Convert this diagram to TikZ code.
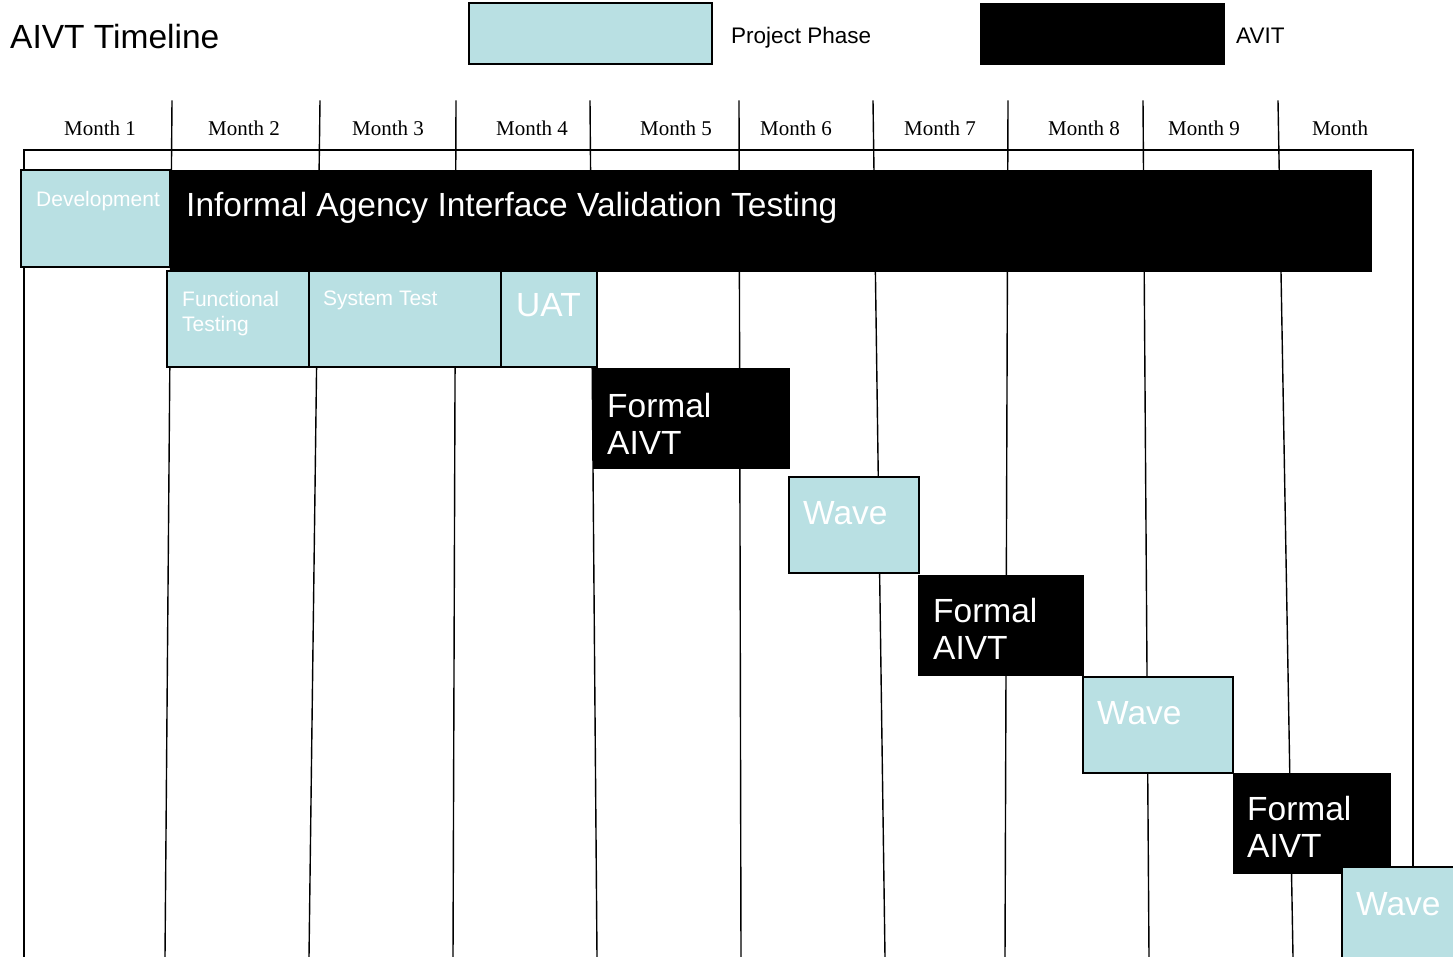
\documentclass[tikz,border=0pt]{standalone}
\usepackage{fontspec}
\setmainfont{Liberation Serif}
\setsansfont{Liberation Sans}
\definecolor{phaseblue}{RGB}{185,224,227}
\begin{document}
\begin{tikzpicture}[x=1pt,y=-1pt,
  gridline/.style={line width=1.4pt, line cap=rect},
  phasebox/.style={draw=black, line width=1.4pt, fill=phaseblue, rectangle,
    anchor=north west, inner sep=0pt, outer sep=0pt},
  avitbox/.style={fill=black, draw=black, line width=0.5pt, rectangle,
    anchor=north west, inner sep=0pt, outer sep=0pt},
  bigtext/.style={font=\sffamily\fontsize{33.5}{37}\selectfont, text=white,
    inner sep=0pt, align=left},
  smalltext/.style={font=\sffamily\fontsize{21}{25}\selectfont, text=white,
    inner sep=0pt, align=left},
  legendtext/.style={font=\sffamily\fontsize{22.5}{26}\selectfont, text=black,
    inner sep=0pt, anchor=base west},
  monthtext/.style={font=\rmfamily\fontsize{21}{25}\selectfont, inner sep=0pt,
    anchor=base},
]
\useasboundingbox (0,0) rectangle (1453,957);
\clip (0,0) rectangle (1453,957);

% ---- title and legend ----
\node[font=\sffamily\fontsize{33.5}{37}\selectfont, inner sep=0pt, anchor=base west]
  (title) at (10,49) {AIVT Timeline};
\node[phasebox, minimum width=243pt, minimum height=61pt] (keyphase) at (469,3) {};
\node[legendtext] (keyphaselbl) at (731,44) {Project Phase};
\node[avitbox, minimum width=244pt, minimum height=61pt] (keyavit) at (980,3) {};
\node[legendtext] (keyavitlbl) at (1236,44) {AVIT};

% ---- month headings ----
\foreach \x/\t [count=\i] in {100/Month 1, 244/Month 2, 388/Month 3, 532/Month 4,
    676/Month 5, 796/Month 6, 940/Month 7, 1084/Month 8, 1204/Month 9, 1340/Month}
  \node[monthtext] (month\i) at (\x,136) {\t};

% ---- frame and month dividers ----
\coordinate (frameBL) at (24,970);
\coordinate (frameTL) at (24,150);
\coordinate (frameTR) at (1413,150);
\coordinate (frameBR) at (1413,970);
\draw[gridline] (frameBL) -- (frameTL) -- (frameTR) -- (frameBR);
\foreach \xt/\xb [count=\i] in {172/165, 320/309, 456/453, 590/597, 739/741,
    873/885, 1008/1005, 1143/1149, 1278/1293} {
  \coordinate (divtop\i) at (\xt,101);
  \coordinate (divbot\i) at (\xb,957);
  \draw[gridline] (divtop\i) -- (divbot\i);
}

% ---- phases ----
\node[phasebox, minimum width=149pt, minimum height=97pt] (dev) at (21,170) {};
\node[smalltext, anchor=base west] (devlbl) at (36,207) {Development};

\node[avitbox, minimum width=1201pt, minimum height=101pt] (informal) at (170,170) {};
\node[bigtext, anchor=base west] (informallbl) at (186,217)
  {Informal Agency Interface Validation Testing};

\node[phasebox, minimum width=142pt, minimum height=96pt] (func) at (167,271) {};
\node[smalltext, anchor=north west] (funclbl) at (182,291) {Functional\\Testing};

\node[phasebox, minimum width=192pt, minimum height=96pt] (sys) at (309,271) {};
\node[smalltext, anchor=base west] (syslbl) at (323,306) {System Test};

\node[phasebox, minimum width=96pt, minimum height=96pt] (uat) at (501,271) {};
\node[bigtext, anchor=base west] (uatlbl) at (516,317) {UAT};

\node[avitbox, minimum width=196pt, minimum height=100pt] (formalA) at (593,368) {};
\node[bigtext, anchor=north west] (formalAlbl) at (607,393) {Formal\\AIVT};

\node[phasebox, minimum width=130pt, minimum height=96pt] (waveA) at (789,477) {};
\node[bigtext, anchor=base west] (waveAlbl) at (803,524) {Wave};

\node[avitbox, minimum width=165pt, minimum height=100pt] (formalB) at (918,575) {};
\node[bigtext, anchor=north west] (formalBlbl) at (933,598) {Formal\\AIVT};

\node[phasebox, minimum width=150pt, minimum height=96pt] (waveB) at (1083,677) {};
\node[bigtext, anchor=base west] (waveBlbl) at (1097,724) {Wave};

\node[avitbox, minimum width=157pt, minimum height=100pt] (formalC) at (1233,773) {};
\node[bigtext, anchor=north west] (formalClbl) at (1247,796) {Formal\\AIVT};

\node[phasebox, minimum width=130pt, minimum height=110pt] (waveC) at (1342,867) {};
\node[bigtext, anchor=base west] (waveClbl) at (1356,915) {Wave};
\end{tikzpicture}
\end{document}
